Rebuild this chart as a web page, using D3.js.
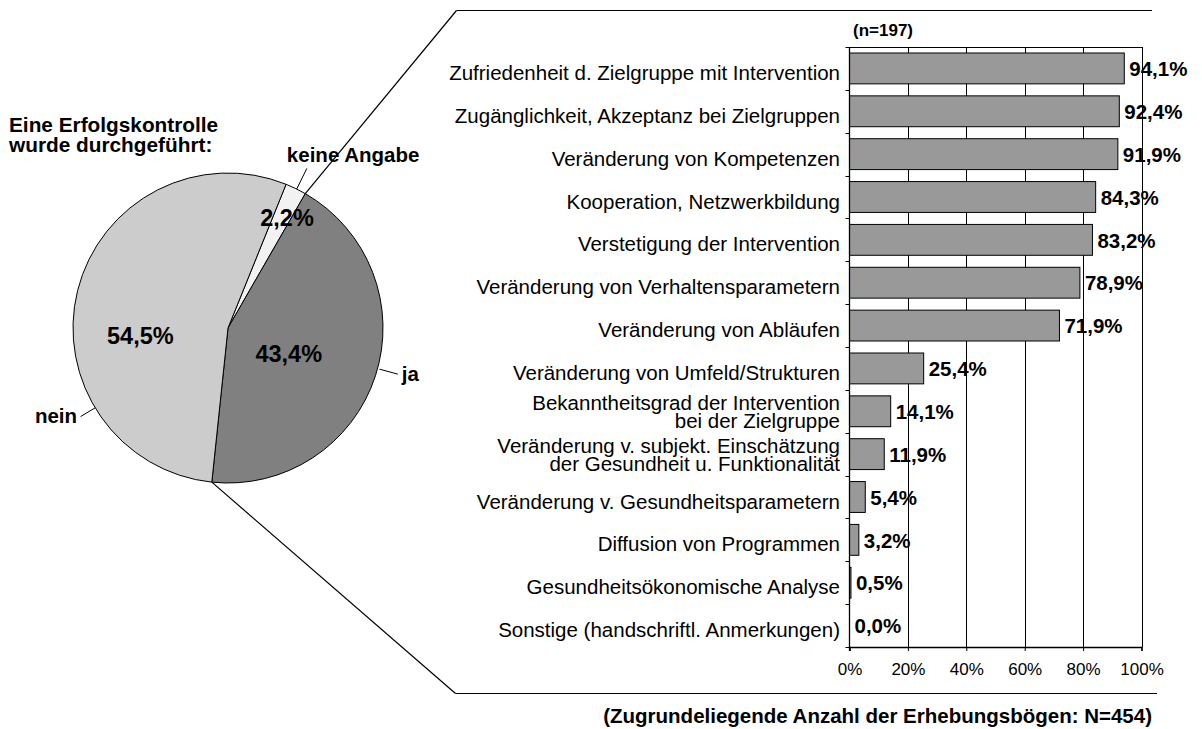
<!DOCTYPE html>
<html>
<head>
<meta charset="utf-8">
<script src="https://cdn.jsdelivr.net/npm/d3@7/dist/d3.min.js"></script>
<style>
  html, body { margin: 0; padding: 0; background: #fff; }
  svg { display: block; font-family: "Liberation Sans", Arial, Helvetica, sans-serif; }
</style>
</head>
<body>
<svg id="chart" width="1202" height="729"></svg>
<script>
// ---------- DATA ----------
const pieTitle = ["Eine Erfolgskontrolle", "wurde durchgeführt:"];
const pieCategories = ["keine Angabe", "ja", "nein"];
const pieValues = [2.2, 43.4, 54.5];

const barCategories = [
  "Zufriedenheit d. Zielgruppe mit Intervention",
  "Zugänglichkeit, Akzeptanz bei Zielgruppen",
  "Veränderung von Kompetenzen",
  "Kooperation, Netzwerkbildung",
  "Verstetigung der Intervention",
  "Veränderung von Verhaltensparametern",
  "Veränderung von Abläufen",
  "Veränderung von Umfeld/Strukturen",
  "Bekanntheitsgrad der Intervention\nbei der Zielgruppe",
  "Veränderung v. subjekt. Einschätzung\nder Gesundheit u. Funktionalität",
  "Veränderung v. Gesundheitsparametern",
  "Diffusion von Programmen",
  "Gesundheitsökonomische Analyse",
  "Sonstige (handschriftl. Anmerkungen)"
];
const barValues = [94.1, 92.4, 91.9, 84.3, 83.2, 78.9, 71.9, 25.4, 14.1, 11.9, 5.4, 3.2, 0.5, 0.0];
const xTicks = [0, 20, 40, 60, 80, 100];
const subsetNote = "(n=197)";
const footNote = "(Zugrundeliegende Anzahl der Erhebungsbögen: N=454)";

// ---------- STYLE / LAYOUT ----------
const pieColors = ["#f2f2f2", "#808080", "#cccccc"];
const barColor = "#999999";
const pieCx = 228, pieCy = 328, pieR = 155;
const pieStartDeg = 22;
// inner value label placement (angle in deg, radius)
const innerLabelPos = [[28.2, 125], [113, 66], [264.8, 88]];
// outer leader lines: angle, inner radius, outer radius, label offset, anchor
const outerLabelPos = [
  {a: 26.3, r0: 0, r1: 23, dx: -20, dy: -6, anchor: "start"},
  {a: 105.2, r0: 2, r1: 21, dx: 4, dy: 6.5, anchor: "start"},
  {a: 239, r0: 0, r1: 17, dx: -3.5, dy: 6.5, anchor: "end"}
];
const plot = {left: 849.5, right: 1141.5, top: 47, bottom: 647};

const loc = d3.formatLocale({decimal: ",", thousands: ".", grouping: [3], currency: ["", "€"]});
const fmt1 = loc.format(".1f");
const pct = v => fmt1(v) + "%";

const svg = d3.select("#chart");
const rad = d => d * Math.PI / 180;
const polar = (a, r) => [pieCx + r * Math.sin(a), pieCy - r * Math.cos(a)];

// ---------- PIE ----------
const pie = d3.pie().sort(null).value(d => d)
  .startAngle(rad(pieStartDeg)).endAngle(rad(pieStartDeg + 360));
const arcs = pie(pieValues);
const arc = d3.arc().innerRadius(0).outerRadius(pieR);

const gPie = svg.append("g").attr("transform", `translate(${pieCx},${pieCy})`);
gPie.selectAll("path").data(arcs).join("path")
  .attr("d", arc)
  .attr("fill", (d, i) => pieColors[i])
  .attr("stroke", "#000").attr("stroke-width", 1).attr("stroke-linejoin", "round");

// inner percentage labels
svg.append("g").selectAll("text").data(arcs).join("text")
  .attr("x", (d, i) => polar(rad(innerLabelPos[i][0]), innerLabelPos[i][1])[0])
  .attr("y", (d, i) => polar(rad(innerLabelPos[i][0]), innerLabelPos[i][1])[1] + 8)
  .attr("text-anchor", "middle")
  .attr("font-size", "23.5px").attr("font-weight", "bold").attr("fill", "#000")
  .text(d => pct(d.data));

// outer category labels with leader lines
const gOuter = svg.append("g");
arcs.forEach((d, i) => {
  const o = outerLabelPos[i];
  const p0 = polar(rad(o.a), pieR + o.r0);
  const p1 = polar(rad(o.a), pieR + o.r1);
  gOuter.append("line")
    .attr("x1", p0[0]).attr("y1", p0[1]).attr("x2", p1[0]).attr("y2", p1[1])
    .attr("stroke", "#000").attr("stroke-width", 1);
  gOuter.append("text")
    .attr("x", p1[0] + o.dx).attr("y", p1[1] + o.dy)
    .attr("text-anchor", o.anchor)
    .attr("font-size", "20.5px").attr("font-weight", "bold")
    .text(pieCategories[i]);
});

// pie title
svg.append("text")
  .attr("x", 9).attr("font-size", "20.8px").attr("font-weight", "bold")
  .selectAll("tspan").data(pieTitle).join("tspan")
  .attr("x", 9).attr("y", (d, i) => 131.5 + i * 20.5)
  .text(d => d);

// zoom connector lines from the "ja" slice edges
const jaArc = arcs[1];
const pTop = polar(jaArc.startAngle, pieR);
const pBot = polar(jaArc.endAngle, pieR);
svg.append("line").attr("x1", pTop[0]).attr("y1", pTop[1]).attr("x2", 456.5).attr("y2", 10.5)
  .attr("stroke", "#000").attr("stroke-width", 1.2);
svg.append("line").attr("x1", 456.5).attr("y1", 10.5).attr("x2", 1152).attr("y2", 10.5)
  .attr("stroke", "#000").attr("stroke-width", 1.2);
svg.append("line").attr("x1", pBot[0]).attr("y1", pBot[1]).attr("x2", 455.5).attr("y2", 693.5)
  .attr("stroke", "#000").attr("stroke-width", 1.2);
svg.append("line").attr("x1", 455.5).attr("y1", 693.5).attr("x2", 1157).attr("y2", 693.5)
  .attr("stroke", "#000").attr("stroke-width", 1.2);

// ---------- BAR CHART ----------
const x = d3.scaleLinear().domain([0, 100]).range([plot.left, plot.right]);
const y = d3.scaleBand().domain(barCategories).range([plot.top, plot.bottom])
  .paddingInner(0.28).paddingOuter(0.14);
const step = y.step();
const bandTop = c => y(c) - y.paddingOuter() * step;

const gBar = svg.append("g");

// gridlines
gBar.append("g").selectAll("line").data(xTicks.slice(1)).join("line")
  .attr("x1", d => Math.round(x(d)) + 0.5).attr("x2", d => Math.round(x(d)) + 0.5)
  .attr("y1", plot.top).attr("y2", plot.bottom)
  .attr("stroke", "#000").attr("stroke-width", 1);
// top border
gBar.append("line").attr("x1", plot.left).attr("x2", Math.round(x(100)) + 0.5)
  .attr("y1", plot.top + 0.5).attr("y2", plot.top + 0.5)
  .attr("stroke", "#000").attr("stroke-width", 1);

// bars
gBar.append("g").selectAll("rect").data(barValues).join("rect")
  .attr("x", x(0))
  .attr("y", (d, i) => y(barCategories[i]))
  .attr("width", d => x(d) - x(0))
  .attr("height", y.bandwidth())
  .attr("fill", barColor)
  .attr("stroke", d => d > 0 ? "#000" : "none")
  .attr("stroke-width", 1);

// left axis
gBar.append("line").attr("x1", plot.left).attr("x2", plot.left)
  .attr("y1", plot.top).attr("y2", plot.bottom + 4)
  .attr("stroke", "#000").attr("stroke-width", 1.3);
const boundaries = barCategories.map(c => bandTop(c)).concat([plot.bottom]);
gBar.append("g").selectAll("line").data(boundaries).join("line")
  .attr("x1", plot.left - 4).attr("x2", plot.left)
  .attr("y1", d => Math.round(d) + 0.5).attr("y2", d => Math.round(d) + 0.5)
  .attr("stroke", "#000").attr("stroke-width", 1);

// bottom axis
const xAxis = d3.axisBottom(x).tickValues(xTicks).tickSize(4).tickPadding(12)
  .tickFormat(d => d + "%");
const gx = gBar.append("g").attr("transform", `translate(0,${plot.bottom})`).call(xAxis);
gx.select(".domain").attr("stroke", "#000").attr("stroke-width", 1.3);
gx.selectAll(".tick line").attr("stroke", "#000");
gx.selectAll(".tick text").attr("font-size", "17px").attr("fill", "#000")
  .attr("font-family", "\"Liberation Sans\", Arial, sans-serif");

// category labels
const gLab = gBar.append("g").attr("font-size", "20.5px").attr("fill", "#000");
barCategories.forEach(c => {
  const lines = c.split("\n");
  const cy = y(c) + y.bandwidth() / 2;
  const t = gLab.append("text").attr("text-anchor", "end");
  if (lines.length === 1) {
    t.append("tspan").attr("x", 840).attr("y", cy + 11.5).text(lines[0]);
  } else {
    lines.forEach((l, j) => {
      t.append("tspan").attr("x", 840).attr("y", cy - 1.5 + j * 18).text(l);
    });
  }
});

// value labels
gBar.append("g").selectAll("text").data(barValues).join("text")
  .attr("x", d => x(d) + 5)
  .attr("y", (d, i) => y(barCategories[i]) + y.bandwidth() / 2 + 7.7)
  .attr("font-size", "20.5px").attr("font-weight", "bold").attr("fill", "#000")
  .text(d => pct(d));

// subset note
svg.append("text").attr("x", 853).attr("y", 36)
  .attr("font-size", "17px").attr("font-weight", "bold").text(subsetNote);

// footnote
svg.append("text").attr("x", 1152).attr("y", 723).attr("text-anchor", "end")
  .attr("font-size", "20.5px").attr("font-weight", "bold").text(footNote);
</script>
</body>
</html>
